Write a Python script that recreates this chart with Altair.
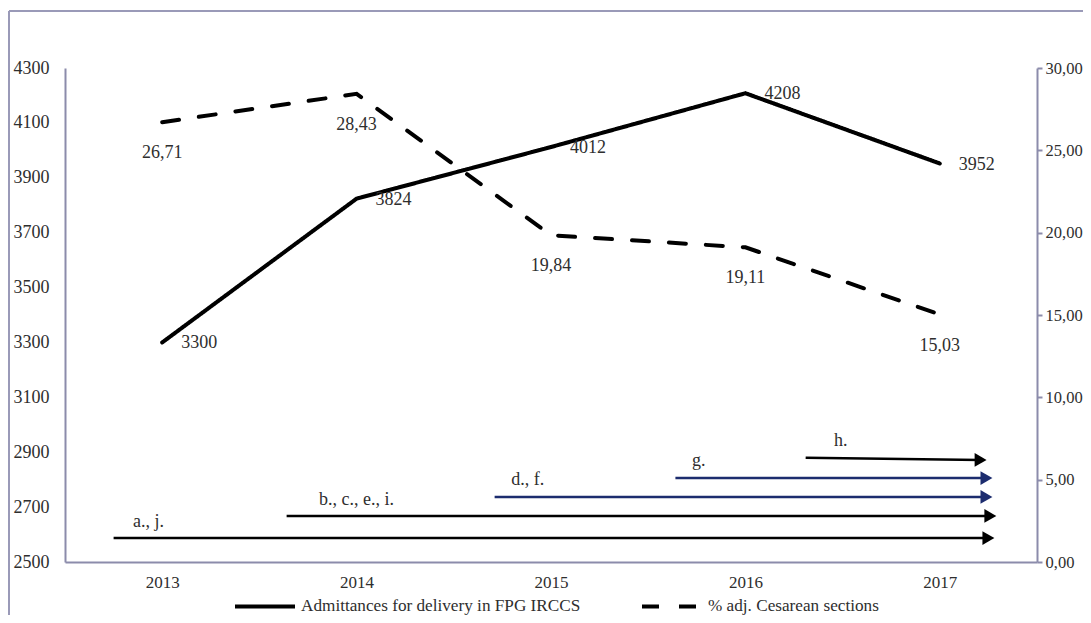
import altair as alt
import pandas as pd

# ---- data ----
years = [2013, 2014, 2015, 2016, 2017]
admittances = [3300, 3824, 4012, 4208, 3952]
cesarean = [26.71, 28.43, 19.84, 19.11, 15.03]
series_names = ["Admittances for delivery in FPG IRCCS", "% adj. Cesarean sections"]

arrow_labels = ["a., j.", "b., c., e., i.", "d., f.", "g.", "h."]
arrow_start = [2012.75, 2013.64, 2014.71, 2015.64, 2016.31]
arrow_end = [2017.25, 2017.26, 2017.24, 2017.24, 2017.21]
arrow_level = [2587, 2668, 2737, 2806, 2880]
arrow_level_end = [2587, 2668, 2737, 2806, 2872]
arrow_colors = ["black", "black", "navy", "navy", "black"]
arrow_label_x = [2012.93, 2014.0, 2014.88, 2015.76, 2016.49]
arrow_label_y = [2646, 2726, 2799, 2868, 2941]

left_ticks = list(range(2500, 4301, 200))
right_ticks = [0, 5, 10, 15, 20, 25, 30]

FONT = "Liberation Serif"
TXT = "#2e2e2e"
AXC = "#8c8cab"
NAVY = "#1c2c6e"

df = pd.DataFrame({"year": years, "adm": admittances, "ces": cesarean})
df["s1"] = series_names[0]
df["s2"] = series_names[1]

arrows = pd.DataFrame({
    "label": arrow_labels, "x0": arrow_start, "x1": arrow_end,
    "y0": arrow_level, "y1": arrow_level_end, "c": arrow_colors,
    "lx": arrow_label_x, "ly": arrow_label_y,
})

xscale = alt.Scale(domain=[2012.5, 2017.5], nice=False, zero=False)
yl = alt.Scale(domain=[2500, 4300], nice=False, zero=False)
yr = alt.Scale(domain=[0, 30], nice=False, zero=False)
dash_scale = alt.Scale(domain=series_names, range=[[1, 0], [17, 20]])
color_scale = alt.Scale(domain=["black", "navy"], range=["black", NAVY])

legend = alt.Legend(
    title=None, orient="none", legendX=168, legendY=506, direction="horizontal",
    symbolType="stroke", symbolSize=3600, symbolStrokeWidth=4, symbolStrokeColor="black",
    labelFont=FONT, labelFontSize=17.2, labelColor=TXT, labelLimit=600,
    columnPadding=53, labelOffset=4,
)

x_axis = alt.Axis(values=years, format="d", ticks=False, labelPadding=12, grid=False,
                  domainColor=AXC, domainWidth=2,
                  labelFont=FONT, labelFontSize=17, labelColor=TXT)
yl_axis = alt.Axis(values=left_ticks, format="d", ticks=False, labelPadding=16, grid=False,
                   domainColor=AXC, domainWidth=2,
                   labelFont=FONT, labelFontSize=18, labelColor=TXT, orient="left")
yr_axis = alt.Axis(values=right_ticks, orient="right", tickSize=5, tickWidth=2,
                   tickColor=AXC, labelPadding=3, grid=False,
                   domainColor=AXC, domainWidth=2, labelFont=FONT, labelFontSize=16.5,
                   labelColor=TXT, labelExpr="replace(format(datum.value, '.2f'), '.', ',')")

solid = alt.Chart(df).mark_line(color="black", strokeWidth=4, strokeCap="round").encode(
    x=alt.X("year:Q", scale=xscale, title=None, axis=x_axis),
    y=alt.Y("adm:Q", scale=yl, title=None, axis=yl_axis),
    strokeDash=alt.StrokeDash("s1:N", scale=dash_scale, legend=legend),
)

solid_text = alt.Chart(df).mark_text(align="left", baseline="middle", dx=19, dy=1,
                                     font=FONT, fontSize=18, color=TXT).encode(
    x=alt.X("year:Q", scale=xscale, title=None),
    y=alt.Y("adm:Q", scale=yl, title=None),
    text=alt.Text("adm:Q", format="d"),
)

arrow_rules = alt.Chart(arrows).mark_rule(strokeWidth=2.5).encode(
    x=alt.X("x0:Q", scale=xscale, title=None),
    x2="x1:Q",
    y=alt.Y("y0:Q", scale=yl, title=None),
    y2="y1:Q",
    color=alt.Color("c:N", scale=color_scale, legend=None),
)

arrow_heads = alt.Chart(arrows).mark_point(shape="triangle-right", filled=True, size=190, opacity=1).encode(
    x=alt.X("x1:Q", scale=xscale, title=None),
    y=alt.Y("y1:Q", scale=yl, title=None),
    color=alt.Color("c:N", scale=color_scale, legend=None),
)

arrow_text = alt.Chart(arrows).mark_text(align="center", baseline="middle", font=FONT,
                                         fontSize=18, color=TXT).encode(
    x=alt.X("lx:Q", scale=xscale, title=None),
    y=alt.Y("ly:Q", scale=yl, title=None),
    text="label:N",
)

left = alt.layer(solid, solid_text, arrow_rules, arrow_heads, arrow_text)

dashed = alt.Chart(df).mark_line(color="black", strokeWidth=4, strokeCap="round").encode(
    x=alt.X("year:Q", scale=xscale, title=None),
    y=alt.Y("ces:Q", scale=yr, title=None, axis=yr_axis),
    strokeDash=alt.StrokeDash("s2:N", scale=dash_scale, legend=legend),
)

dashed_text = alt.Chart(df).transform_calculate(
    lab="replace(format(datum.ces, '.2f'), '.', ',')"
).mark_text(align="center", baseline="middle", dy=31, font=FONT, fontSize=18, color=TXT).encode(
    x=alt.X("year:Q", scale=xscale, title=None),
    y=alt.Y("ces:Q", scale=yr, title=None),
    text="lab:N",
)

right = alt.layer(dashed, dashed_text)

frame_df = pd.DataFrame({"k": [0]})
frame_top = alt.Chart(frame_df).mark_rule(color="#9a9ab8", strokeWidth=2).encode(
    x=alt.value(-56), x2=alt.value(1100), y=alt.value(-57))
frame_left = alt.Chart(frame_df).mark_rule(color="#9a9ab8", strokeWidth=2).encode(
    x=alt.value(-56), y=alt.value(-57), y2=alt.value(700))

chart = alt.layer(left, right, frame_top, frame_left).resolve_scale(y="independent").properties(
    width=972, height=494,
    autosize=alt.AutoSizeParams(type="none"),
    padding={"left": 57, "top": 60, "right": 46, "bottom": 53},
).configure(font=FONT).configure_legend(
    labelFont=FONT, labelFontSize=17.2, labelColor=TXT
).configure_view(stroke=None)

chart.save("out.html", embed_options={"renderer": "svg", "actions": False})
